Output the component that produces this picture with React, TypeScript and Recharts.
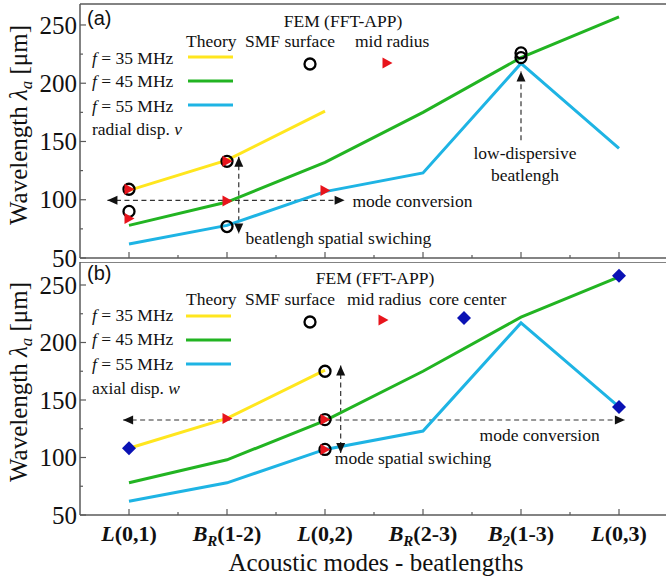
import React from "react";
import {
  ComposedChart,
  Line,
  Scatter,
  XAxis,
  YAxis,
  ReferenceLine,
  ReferenceDot,
} from "recharts";

// ---------- data ----------
const modes = ["L(0,1)", "B_R(1-2)", "L(0,2)", "B_R(2-3)", "B_2(1-3)", "L(0,3)"];
const theory35 = [108, 134, 176, null, null, null];
const theory45 = [78, 98, 132, 175, 222, 257];
const theory55 = [62, 78, 107, 123, 217, 144];

const yTicks = [50, 75, 100, 125, 150, 175, 200, 225, 250];
const xTicks = [0, 0.5, 1, 1.5, 2, 2.5, 3, 3.5, 4, 4.5, 5];

// FEM (FFT-APP) – panel (a), radial displacement v
const smfSurfaceA = [
  { x: 0, y: 109 },
  { x: 0, y: 90 },
  { x: 1, y: 133 },
  { x: 1, y: 77 },
  { x: 4, y: 226 },
  { x: 4, y: 222 },
];
const midRadiusA = [
  { x: 0, y: 109 },
  { x: 0, y: 84 },
  { x: 1, y: 133 },
  { x: 1, y: 99 },
  { x: 2, y: 108 },
];
// FEM (FFT-APP) – panel (b), axial displacement w
const smfSurfaceB = [
  { x: 2, y: 175 },
  { x: 2, y: 133 },
  { x: 2, y: 107 },
];
const midRadiusB = [
  { x: 1, y: 134 },
  { x: 2, y: 133 },
  { x: 2, y: 107 },
];
const coreCenterB = [
  { x: 0, y: 108 },
  { x: 5, y: 258 },
  { x: 5, y: 144 },
];

// annotation arrows (data units)
const arrowsA = [
  { from: { x: -0.22, y: 99.5 }, to: { x: 2.2, y: 99.5 }, heads: ["left", "right"] },
  { from: { x: 1.12, y: 137 }, to: { x: 1.12, y: 71 }, heads: ["up", "down"] },
  { from: { x: 4, y: 151 }, to: { x: 4, y: 210 }, heads: [null, "up"] },
];
const arrowsB = [
  { from: { x: -0.06, y: 132.6 }, to: { x: 5.06, y: 132.6 }, heads: ["left", "right"] },
  { from: { x: 2.16, y: 180 }, to: { x: 2.16, y: 104 }, heads: ["up", "down"] },
];
const notesA = [
  { x: 2.28, y: 99, text: "mode conversion", anchor: "start" },
  { x: 1.19, y: 67, text: "beatlengh spatial swiching", anchor: "start" },
  { x: 4.04, y: 140, text: "low-dispersive", anchor: "middle" },
  { x: 4.04, y: 121, text: "beatlengh", anchor: "middle" },
];
const notesB = [
  { x: 4.19, y: 119.5, text: "mode conversion", anchor: "middle" },
  { x: 2.1, y: 99.5, text: "mode spatial swiching", anchor: "start" },
];

// ---------- styles ----------
const SERIF = "'Liberation Serif', 'Times New Roman', serif";
const SANS = "'Liberation Sans', Arial, sans-serif";
const YELLOW = "#FFE61E";
const GREEN = "#22B422";
const CYAN = "#1EB4E4";
const RED = "#E8141C";
const BLUE = "#0A12B4";
const AXIS = "#5a5a5a";

const rows = modes.map((m, i) => ({ x: i, t35: theory35[i], t45: theory45[i], t55: theory55[i] }));

const Circle = (p: any) => (
  <circle cx={p.cx} cy={p.cy} r={5.5} fill="none" stroke="#000" strokeWidth={2.3} />
);
const Tri = (p: any) => (
  <polygon
    points={`${p.cx - 4.5},${p.cy - 5.5} ${p.cx - 4.5},${p.cy + 5.5} ${p.cx + 5.5},${p.cy}`}
    fill={RED}
  />
);
const Diamond = (p: any) => (
  <polygon
    points={`${p.cx},${p.cy - 7} ${p.cx + 7},${p.cy} ${p.cx},${p.cy + 7} ${p.cx - 7},${p.cy}`}
    fill={BLUE}
  />
);

const Head = ({ cx, cy, dir }: any) => {
  const L = 10;
  const W = 4.5;
  let pts = "";
  if (dir === "left") pts = `${cx},${cy} ${cx + L},${cy - W} ${cx + L},${cy + W}`;
  if (dir === "right") pts = `${cx},${cy} ${cx - L},${cy - W} ${cx - L},${cy + W}`;
  if (dir === "up") pts = `${cx},${cy} ${cx - W},${cy + L} ${cx + W},${cy + L}`;
  if (dir === "down") pts = `${cx},${cy} ${cx - W},${cy - L} ${cx + W},${cy - L}`;
  return <polygon points={pts} fill="#111" />;
};

const ModeLabel = ({ x, y, label }: any) => {
  const m = label.match(/^([A-Z])(?:_([A-Z0-9]))?(.*)$/);
  const base = m[1];
  const sub = m[2];
  const rest = m[3];
  return (
    <text x={x} y={y} textAnchor="middle" fontFamily={SERIF} fontWeight="bold" fontSize={22} fill="#111">
      <tspan fontStyle="italic">{base}</tspan>
      {sub ? (
        <>
          <tspan fontStyle="italic" fontSize={15} dy={5}>
            {sub}
          </tspan>
          <tspan dy={-5}>{rest}</tspan>
        </>
      ) : (
        <tspan>{rest}</tspan>
      )}
    </text>
  );
};

const XTick = (props: any) => {
  const { x, y, payload, showLabel } = props;
  const v = payload.value;
  const major = Math.abs(v - Math.round(v)) < 1e-6;
  const len = major ? 6 : 3;
  return (
    <g>
      <line x1={x} x2={x} y1={y} y2={y - len} stroke={AXIS} strokeWidth={1.2} />
      {showLabel && major ? <ModeLabel x={x} y={y + 26} label={modes[Math.round(v)]} /> : null}
    </g>
  );
};

const YTick = (props: any) => {
  const { x, y, payload } = props;
  const v = payload.value;
  const major = v % 50 === 0;
  return (
    <g>
      <line x1={x} x2={x + (major ? 6 : 3)} y1={y} y2={y} stroke={AXIS} strokeWidth={1.2} />
      {major ? (
        <text x={x - 3} y={y} dy="0.35em" textAnchor="end" fontSize={25} fontFamily={SERIF} fill="#111">
          {v}
        </text>
      ) : null}
    </g>
  );
};

const renderArrows = (arrows: any[], key: string) =>
  arrows.flatMap((a, i) => {
    const out: any[] = [
      <ReferenceLine
        key={`${key}l${i}`}
        segment={[a.from, a.to]}
        stroke="#333"
        strokeWidth={1.2}
        strokeDasharray="5 3.5"
      />,
    ];
    if (a.heads[0])
      out.push(
        <ReferenceDot
          key={`${key}h0${i}`}
          x={a.from.x}
          y={a.from.y}
          r={0}
          shape={(p: any) => <Head cx={p.cx} cy={p.cy} dir={a.heads[0]} />}
        />
      );
    if (a.heads[1])
      out.push(
        <ReferenceDot
          key={`${key}h1${i}`}
          x={a.to.x}
          y={a.to.y}
          r={0}
          shape={(p: any) => <Head cx={p.cx} cy={p.cy} dir={a.heads[1]} />}
        />
      );
    return out;
  });

const renderNotes = (notes: any[], key: string) =>
  notes.map((n, i) => (
    <ReferenceDot
      key={`${key}n${i}`}
      x={n.x}
      y={n.y}
      r={0}
      shape={(p: any) => (
        <text x={p.cx} y={p.cy} dy="0.35em" textAnchor={n.anchor} fontSize={17.5} fontFamily={SERIF} fill="#111">
          {n.text}
        </text>
      )}
    />
  ));

const Panel = ({ height, top, marginTop, bottomAxisHeight, yMax, showLabels, scatters, arrows, notes, id }: any) => (
  <div style={{ position: "absolute", left: 0, top }}>
    <ComposedChart
      width={668}
      height={height}
      data={rows}
      margin={{ top: marginTop, right: 0, bottom: 0, left: 0 }}
    >
      <XAxis
        dataKey="x"
        type="number"
        domain={[-0.5, 5.5]}
        ticks={xTicks}
        interval={0}
        height={bottomAxisHeight}
        tickSize={0}
        tickMargin={0}
        tickLine={false}
        axisLine={{ stroke: AXIS, strokeWidth: 1.5 }}
        tick={(p: any) => <XTick {...p} showLabel={showLabels} />}
      />
      <YAxis
        type="number"
        domain={[50, yMax]}
        ticks={yTicks}
        interval={0}
        width={80}
        allowDataOverflow
        tickSize={0}
        tickMargin={0}
        tickLine={false}
        axisLine={{ stroke: AXIS, strokeWidth: 1.5 }}
        tick={(p: any) => <YTick {...p} />}
      />
      <ReferenceLine y={yMax} stroke={AXIS} strokeWidth={1.5} ifOverflow="visible" />
      {renderArrows(arrows, id)}
      <Line dataKey="t35" stroke={YELLOW} strokeWidth={3} dot={false} isAnimationActive={false} connectNulls={false} />
      <Line dataKey="t45" stroke={GREEN} strokeWidth={3} dot={false} isAnimationActive={false} />
      <Line dataKey="t55" stroke={CYAN} strokeWidth={3} dot={false} isAnimationActive={false} />
      {scatters.map((s: any, i: number) => (
        <Scatter key={`${id}s${i}`} data={s.data} dataKey="y" shape={s.shape} isAnimationActive={false} />
      ))}
      {renderNotes(notes, id)}
    </ComposedChart>
  </div>
);

const T = ({ x, y, children, anchor = "start", size = 17.5, family = SERIF }: any) => (
  <text x={x} y={y} dy="0.35em" textAnchor={anchor} fontSize={size} fontFamily={family} fill="#111">
    {children}
  </text>
);

const Overlay = () => (
  <svg width={666} height={579} style={{ position: "absolute", left: 0, top: 0, pointerEvents: "none" }}>
    {/* y axis titles */}
    {[125, 382].map((cy, i) => (
      <text key={i} transform={`translate(27,${cy}) rotate(-90)`} textAnchor="middle" fontSize={25} fontFamily={SERIF} fill="#111">
        Wavelength <tspan fontStyle="italic">λ</tspan>
        <tspan fontStyle="italic" fontSize={17} dy={5}>a</tspan>
        <tspan dy={-5}> [μm]</tspan>
      </text>
    ))}
    {/* x axis title */}
    <T x={376} y={562} anchor="middle" size={25}>Acoustic modes - beatlengths</T>

    {/* panel (a) legend */}
    <T x={87} y={18} size={20} family={SANS}>(a)</T>
    <T x={343} y={21} anchor="middle">FEM (FFT-APP)</T>
    <T x={186} y={41}>Theory</T>
    <T x={245} y={41}>SMF surface</T>
    <T x={355} y={41}>mid radius</T>
    <T x={92} y={58}><tspan fontStyle="italic">f</tspan> = 35 MHz</T>
    <T x={92} y={81}><tspan fontStyle="italic">f</tspan> = 45 MHz</T>
    <T x={92} y={106}><tspan fontStyle="italic">f</tspan> = 55 MHz</T>
    <T x={92} y={129}>radial disp. <tspan fontStyle="italic">v</tspan></T>
    <line x1={188} x2={233} y1={57} y2={57} stroke={YELLOW} strokeWidth={3} />
    <line x1={188} x2={233} y1={81} y2={81} stroke={GREEN} strokeWidth={3} />
    <line x1={188} x2={233} y1={105} y2={105} stroke={CYAN} strokeWidth={3} />
    <Circle cx={310} cy={64} />
    <Tri cx={387} cy={63} />

    {/* panel (b) legend */}
    <T x={87} y={273} size={20} family={SANS}>(b)</T>
    <T x={375} y={278} anchor="middle">FEM (FFT-APP)</T>
    <T x={186} y={299}>Theory</T>
    <T x={245} y={299}>SMF surface</T>
    <T x={347} y={299}>mid radius</T>
    <T x={429} y={299}>core center</T>
    <T x={92} y={315}><tspan fontStyle="italic">f</tspan> = 35 MHz</T>
    <T x={92} y={339}><tspan fontStyle="italic">f</tspan> = 45 MHz</T>
    <T x={92} y={364}><tspan fontStyle="italic">f</tspan> = 55 MHz</T>
    <T x={92} y={388}>axial disp. <tspan fontStyle="italic">w</tspan></T>
    <line x1={186} x2={231} y1={316} y2={316} stroke={YELLOW} strokeWidth={3} />
    <line x1={186} x2={231} y1={340} y2={340} stroke={GREEN} strokeWidth={3} />
    <line x1={186} x2={231} y1={364} y2={364} stroke={CYAN} strokeWidth={3} />
    <Circle cx={310} cy={322} />
    <Tri cx={383} cy={320} />
    <Diamond cx={464} cy={318} />
  </svg>
);

export default function App() {
  return (
    <div style={{ position: "absolute", left: 0, top: 0, width: 666, height: 579, overflow: "hidden", background: "#fff" }}>
      <Panel
        id="a"
        top={0}
        marginTop={4}
        height={276}
        bottomAxisHeight={18}
        yMax={268}
        showLabels={false}
        scatters={[
          { data: smfSurfaceA, shape: Circle },
          { data: midRadiusA, shape: Tri },
        ]}
        arrows={arrowsA}
        notes={notesA}
      />
      <Panel
        id="b"
        top={262}
        marginTop={0}
        height={317}
        bottomAxisHeight={64}
        yMax={270}
        showLabels={true}
        scatters={[
          { data: smfSurfaceB, shape: Circle },
          { data: midRadiusB, shape: Tri },
          { data: coreCenterB, shape: Diamond },
        ]}
        arrows={arrowsB}
        notes={notesB}
      />
      <Overlay />
    </div>
  );
}
